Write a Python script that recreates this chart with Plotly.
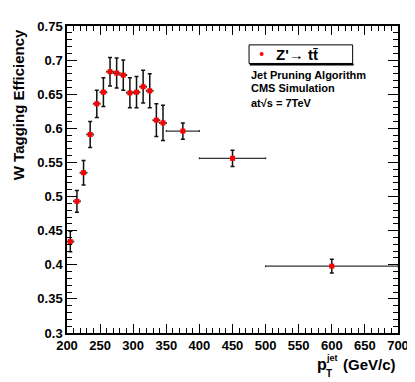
import plotly.graph_objects as go

# W tagging efficiency vs jet pT (Z' -> tt, pruning)
pt_center = [205, 215, 225, 235, 245, 255, 265, 275, 285, 295, 305, 315, 325, 335, 345, 375, 450, 600]
pt_halfwidth = [5, 5, 5, 5, 5, 5, 5, 5, 5, 5, 5, 5, 5, 5, 5, 25, 50, 100]
efficiency = [0.434, 0.493, 0.535, 0.591, 0.636, 0.653, 0.683, 0.681, 0.678, 0.652,
              0.653, 0.661, 0.655, 0.612, 0.608, 0.596, 0.556, 0.398]
eff_err = [0.015, 0.016, 0.018, 0.019, 0.020, 0.021, 0.021, 0.022, 0.022, 0.022,
           0.023, 0.024, 0.025, 0.024, 0.026, 0.012, 0.012, 0.010]

FONT = "Liberation Sans"

fig = go.Figure()
fig.add_trace(go.Scatter(
    x=pt_center, y=efficiency, mode='markers',
    marker=dict(symbol='square', size=5, color='#ff0000', line=dict(width=0)),
    error_y=dict(type='data', array=eff_err, color='#111111', thickness=1.5, width=2),
    error_x=dict(type='data', array=pt_halfwidth, color='#333333', thickness=1.2, width=1),
    showlegend=False,
))

axis_common = dict(
    showline=True, linecolor='black', linewidth=1.5, mirror='allticks',
    ticks='inside', tickcolor='black', tickwidth=1, showgrid=False, zeroline=False,
    tickfont=dict(family=FONT, size=13, color='black', weight='bold'),
)
fig.update_xaxes(range=[200, 700], dtick=50, tick0=200, ticklen=9,
                 minor=dict(dtick=10, ticks='inside', ticklen=5, tickcolor='black', showgrid=False),
                 **axis_common)
fig.update_yaxes(range=[0.3, 0.75], dtick=0.05, tick0=0.3, ticklen=10,
                 minor=dict(dtick=0.01, ticks='inside', ticklen=5, tickcolor='black', showgrid=False),
                 **axis_common)

# legend box drawn by hand (ROOT style)
fig.add_shape(type='rect', xref='paper', yref='paper', x0=0.550, x1=0.863, y0=0.878, y1=0.9385,
              line=dict(color='black', width=1), fillcolor='white')
fig.add_shape(type='line', xref='paper', yref='paper', x0=0.552, x1=0.866, y0=0.875, y1=0.875,
              line=dict(color='black', width=2))
fig.add_shape(type='circle', xref='paper', yref='paper', x0=0.582, x1=0.594, y0=0.9022, y1=0.915,
              line=dict(width=0), fillcolor='#ff0000')

def note(text, x, y, size, xanchor='left', **kw):
    fig.add_annotation(text=text, x=x, y=y, xref='paper', yref='paper', showarrow=False,
                       xanchor=xanchor, yanchor='middle',
                       font=dict(family=FONT, size=size, color='black', weight='bold'), **kw)

note("Z'\u2192 tt\u0304", 0.625, 0.9086, 15)
note("Jet Pruning Algorithm", 0.550, 0.8408, 11)
note("CMS Simulation", 0.550, 0.7971, 11)
note("at\u221As = 7TeV", 0.550, 0.7506, 11)

# axis titles
note("W Tagging Efficiency", -0.148, 0.742, 15, xanchor='center', textangle=-90)
note("(GeV/c)", 1.0, -0.104, 15, xanchor='right')
note("p", 0.749, -0.102, 16)
note("jet", 0.776, -0.083, 9)
note("T", 0.776, -0.131, 10)

# page body adds an 8px offset, so margins are shifted to compensate
fig.update_layout(
    width=415, height=382,
    margin=dict(l=59, r=25, t=11, b=57),
    paper_bgcolor='white', plot_bgcolor='white',
)

fig.write_html("out.html")
